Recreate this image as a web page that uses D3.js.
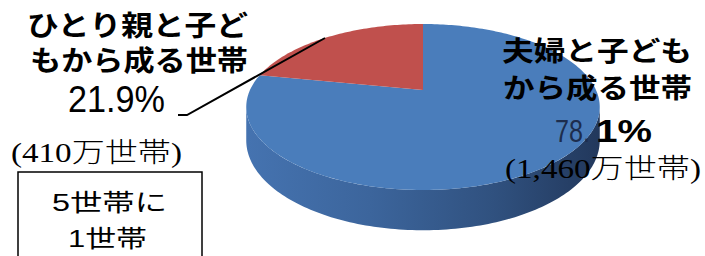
<!DOCTYPE html>
<html lang="ja">
<head>
<meta charset="UTF-8">
<script src="https://cdnjs.cloudflare.com/ajax/libs/d3/7.8.5/d3.min.js"></script>
<style>
body{ margin:0; background:#fff; }
svg{ display:block; }
.gothic{ font-family:"Liberation Sans", "Noto Sans CJK JP", sans-serif; }
.serif{ font-family:"Liberation Serif", "Noto Sans CJK JP", serif; font-weight:300; }
.arial{ font-family:"Liberation Sans", Arial, "Noto Sans CJK JP", sans-serif; }
</style>
</head>
<body>
<div id="chart"></div>
<script>
// data
const categories = ["夫婦と子どもから成る世帯", "ひとり親と子どもから成る世帯"];
const shares = [78.1, 21.9];            // %
const households = [1460, 410];          // 万世帯
const colors = ["#4a7dbb", "#c0504d"];

const w = 705, h = 256;
const svg = d3.select('#chart').append('svg').attr('width', w).attr('height', h);

// perspective pie geometry
const cx = 423, cy = 90, A = 173, ay = 79.5, b = 0.205, depth = 32;
function proj(a, z){
  const u = Math.sin(a), v = -Math.cos(a);
  const k = 1 - b * v;
  return [cx + A * u / k, cy + (ay * v + depth * z) / k];
}
function arcPts(a0, a1, z){
  const n = Math.max(2, Math.ceil(Math.abs(a1 - a0) / 0.02));
  return d3.range(n + 1).map(i => proj(a0 + (a1 - a0) * i / n, z));
}
const line = d3.line();

const pie = d3.pie().sort(null).value(d => d);
const slices = pie(shares);

// side wall gradient
const defs = svg.append('defs');
const grad = defs.append('linearGradient').attr('id', 'side').attr('x1', 0).attr('x2', 1).attr('y1', 0).attr('y2', 0);
[["0%", "#4573b0"], ["35%", "#3c659c"], ["70%", "#30517f"], ["100%", "#22385c"]]
  .forEach(s => grad.append('stop').attr('offset', s[0]).attr('stop-color', s[1]));

// visible front wall (between the silhouette points)
const aR = Math.acos(-b), aL = 2 * Math.PI - aR;
const wallTop = arcPts(aR, aL, 0);
const wallBot = arcPts(aL, aR, 1);
svg.append('path')
  .attr('d', line(wallTop.concat(wallBot)) + 'Z')
  .attr('fill', 'url(#side)');

// top faces
svg.selectAll('path.slice').data(slices).enter().append('path')
  .attr('class', 'slice')
  .attr('d', d => line([[cx, cy]].concat(arcPts(d.startAngle, d.endAngle, 0))) + 'Z')
  .attr('fill', (d, i) => colors[i]);

// leader line for the small slice
svg.append('path')
  .attr('d', line([[325, 38], [187, 115], [178, 115]]))
  .attr('fill', 'none').attr('stroke', '#000').attr('stroke-width', 2);

// one <text> per label block, one <tspan> per line
// rows: [x, y, text, class, size, length, weight, fill]
function block(rows){
  const t = svg.append('text');
  rows.forEach(r => {
    t.append('tspan')
      .attr('x', r[0]).attr('y', r[1])
      .attr('class', r[3])
      .attr('font-size', r[4])
      .attr('font-weight', r[6] || null)
      .attr('fill', r[7] || '#000')
      .attr('textLength', r[5]).attr('lengthAdjust', 'spacingAndGlyphs')
      .text(r[2]);
  });
  return t;
}

// left label (ひとり親)
block([
  [27, 36, "ひとり親と子ど", 'gothic', 28, 221, 'bold'],
  [30, 71, "もから成る世帯", 'gothic', 28, 218, 'bold'],
  [68, 112, shares[1].toFixed(1) + "%", 'arial', 37, 97],
  [11, 162, "(" + households[1] + "万世帯)", 'serif', 27, 171]
]);

// right label (夫婦)
const p = shares[0].toFixed(1);
block([
  [502, 61, "夫婦と子ども", 'gothic', 27, 190, 'bold'],
  [503, 98, "から成る世帯", 'gothic', 27, 189, 'bold'],
  [555, 142, p.slice(0, 3), 'arial', 31, 35, null, '#1d2d4d'],
  [596, 142, p.slice(3) + "%", 'arial', 31, 56, 'bold'],
  [505, 178, "(" + d3.format(",")(households[0]) + "万世帯)", 'serif', 27, 196]
]);

// note box
svg.append('rect').attr('x', 18).attr('y', 172).attr('width', 184).attr('height', 100)
  .attr('fill', '#fff').attr('stroke', '#000').attr('stroke-width', 1.5);
block([
  [52, 211, Math.round(100 / shares[1]) + "世帯に", 'arial', 24, 115],
  [68, 247, "1世帯", 'arial', 24, 79]
]);
</script>
</body>
</html>
